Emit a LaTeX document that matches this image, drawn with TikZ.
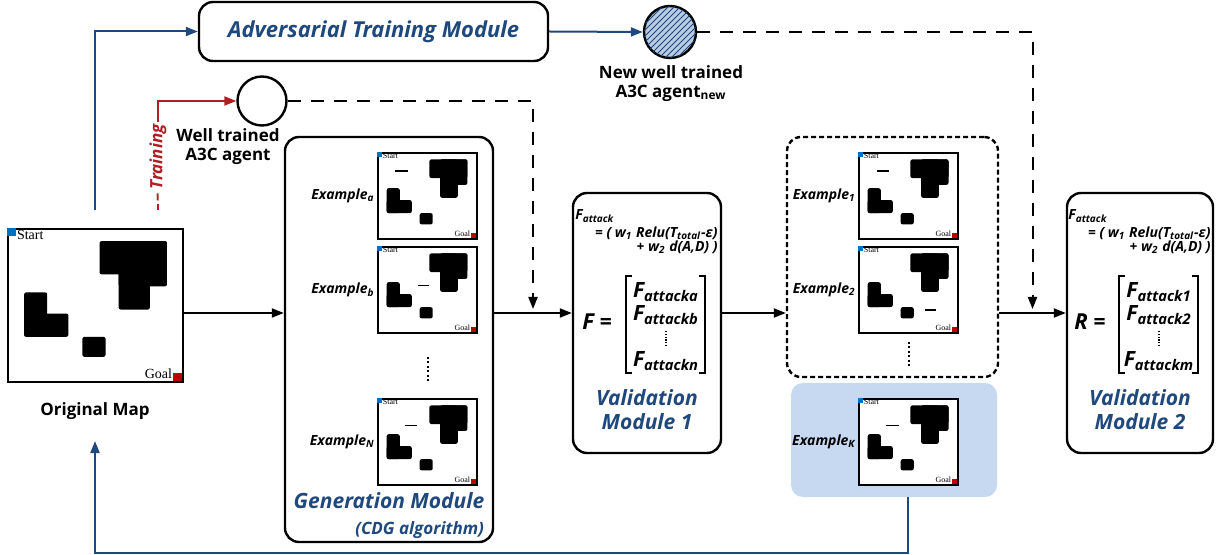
\documentclass[tikz,border=0pt]{standalone}
\usepackage{fontspec}
\setmainfont{Open Sans}
\newfontfamily\mapfont{Liberation Serif}
\usepackage{amsmath}
\usetikzlibrary{arrows.meta,positioning,patterns,calc}
\definecolor{navy}{RGB}{31,73,125}
\definecolor{trainred}{RGB}{176,30,36}
\definecolor{boxblue}{RGB}{198,217,240}
\definecolor{hatchblue}{RGB}{184,204,228}
\definecolor{startblue}{RGB}{0,112,192}
\definecolor{goalred}{RGB}{192,0,0}

% grid map: name, x, y, width, height, font size, extra drawing
\newcommand{\gridmap}[7]{%
  \node[mapbox,minimum width=#4,minimum height=#5,anchor=north west] (#1) at (#2,#3) {};
  \begin{scope}[shift={(#1.north west)},x=#4,y=-#5]
    \fill[obst] (0.529,0.086) rectangle (0.914,0.303);
    \fill[obst] (0.638,0.086) rectangle (0.914,0.382);
    \fill[obst] (0.638,0.086) rectangle (0.816,0.533);
    \fill[obst] (0.098,0.421) rectangle (0.230,0.711);
    \fill[obst] (0.098,0.559) rectangle (0.351,0.711);
    \fill[obst] (0.431,0.711) rectangle (0.563,0.842);
    \fill[startblue] (0,0) rectangle (0.05,0.055);
    \node[anchor=north west,inner sep=0pt,font=\mapfont\fontsize{#6}{#6}\selectfont] (#1-start) at (0.055,0.01) {Start};
    \fill[goalred] (0.95,0.945) rectangle (1,1);
    \node[anchor=south east,inner sep=0pt,font=\mapfont\fontsize{#6}{#6}\selectfont] (#1-goal) at (0.945,0.985) {Goal};
    #7
  \end{scope}}

% fitness vector: name, centre x, symbol, three subscripts
\newcommand{\fvector}[6]{%
  \node[eqn] (#1eq) at (#2-50,322) {#3 =};
  \node[ent] (#1e1) at (#2+19,292) {F\textsubscript{attack#4}};
  \node[ent] (#1e2) at (#2+19,315) {F\textsubscript{attack#5}};
  \node[ent] (#1e3) at (#2+19,361) {F\textsubscript{attack#6}};
  \draw[mdots] (#2+19,331) -- (#2+19,347);
  \draw[brk] (#2-15,276) -- (#2-21,276) -- (#2-21,373) -- (#2-15,373);
  \draw[brk] (#2+52,276) -- (#2+58,276) -- (#2+58,373) -- (#2+52,373);
  \node[fml,anchor=west] (#1fa) at (#2-72,216) {F\textsubscript{attack}};
  \node[fml,anchor=east,align=right] (#1fb) at (#2+71,240) {= ( w\textsubscript{1} Relu(T\textsubscript{total}-ε)\\+ w\textsubscript{2} d(A,D) )};}

\begin{document}
\begin{tikzpicture}[
  x=0.5pt,y=-0.5pt,
  box/.style={draw,line width=1.2pt,rounded corners=7pt,inner sep=0pt},
  mapbox/.style={draw,line width=0.8pt,fill=white,inner sep=0pt},
  obst/.style={black,rounded corners=1pt},
  pert/.style={line width=0.9pt},
  arr/.style={line width=1pt,-{Triangle[length=6pt,width=4.5pt]}},
  bluearr/.style={arr,navy},
  redarr/.style={arr,trainred},
  dasharr/.style={arr,dash pattern=on 6.5pt off 5pt},
  agent/.style={circle,draw,line width=1.2pt,minimum size=24.5pt,inner sep=0pt,fill=white},
  title/.style={text=navy,font=\fontsize{10.5}{12}\selectfont\bfseries\itshape,align=center},
  lbl/.style={font=\fontsize{8.5}{9.5}\selectfont\bfseries,align=center},
  exlbl/.style={font=\fontsize{7}{8}\selectfont\bfseries\itshape,inner sep=0.5pt},
  fml/.style={font=\fontsize{7}{7}\selectfont\bfseries\itshape,inner sep=0pt},
  ent/.style={font=\fontsize{10.5}{11}\selectfont\bfseries\itshape,inner sep=0pt},
  eqn/.style={font=\fontsize{11}{12}\selectfont\bfseries\itshape,inner sep=0pt},
  brk/.style={line width=0.8pt},
  mdots/.style={line width=0.7pt,dash pattern=on 0.6pt off 0.8pt},
  dotline/.style={line width=1.2pt,dash pattern=on 1pt off 1.2pt}
]
\useasboundingbox (0,0) rectangle (1225,555);

% module boxes
\node[box,fill=white,minimum width=174.5pt,minimum height=29.5pt,title,font=\fontsize{11}{13}\selectfont\bfseries\itshape] (atm) at (373.5,31.5) {Adversarial Training Module};
\node[box,minimum width=104pt,minimum height=202.5pt] (gen) at (389,339.5) {};
\node[box,minimum width=74pt,minimum height=130pt] (v1) at (647,323) {};
\node[box,minimum width=73pt,minimum height=130pt] (v2) at (1140,323) {};
\node[box,dash pattern=on 2.5pt off 1.5pt,minimum width=105.5pt,minimum height=120pt] (dbox) at (892.5,257) {};
\node[fill=boxblue,rounded corners=6pt,inner sep=0pt,minimum width=103pt,minimum height=57pt] (exk) at (894,440) {};

% agents
\node[agent] (wta) at (262,101) {};
\node[lbl] (wtalbl) at (228,147) {Well trained\\A3C agent};
\node[agent,minimum size=26pt,fill=hatchblue,postaction={pattern=north east lines,pattern color=navy}] (nwa) at (670,32) {};
\node[lbl] (nwalbl) at (671,84) {New well trained\\A3C agent\textsubscript{new}};

% maps
\gridmap{orig}{7}{228}{87.5pt}{76.5pt}{7}{}
\node[lbl] (origlbl) at (95,411) {Original Map};
\gridmap{mapa}{377}{152}{49.5pt}{43pt}{4}{\draw[pert] (0.18,0.22) -- (0.31,0.22);}
\gridmap{mapb}{377}{246}{49.5pt}{43pt}{4}{\draw[pert] (0.41,0.46) -- (0.53,0.46);}
\gridmap{mapn}{377}{398}{49.5pt}{43pt}{4}{\draw[pert] (0.28,0.32) -- (0.40,0.32);}
\gridmap{map1}{858}{152}{49.5pt}{43pt}{4}{\draw[pert] (0.19,0.22) -- (0.31,0.22);}
\gridmap{map2}{858}{246}{49.5pt}{43pt}{4}{\draw[pert] (0.68,0.74) -- (0.79,0.74);}
\gridmap{mapk}{858}{398}{49.5pt}{43pt}{4}{\draw[pert] (0.28,0.32) -- (0.41,0.32);}
\draw[dotline] (428,357) -- (428,382);
\draw[dotline] (909,342) -- (909,368);

\node[exlbl,left=0.5pt of mapa] (exa) {Example\textsubscript{a}};
\node[exlbl,left=0.5pt of mapb] (exb) {Example\textsubscript{b}};
\node[exlbl,left=0.5pt of mapn] (exn) {Example\textsubscript{N}};
\node[exlbl,left=0.5pt of map1] (ex1) {Example\textsubscript{1}};
\node[exlbl,left=0.5pt of map2] (ex2) {Example\textsubscript{2}};
\node[exlbl,left=0.5pt of mapk] (exkl) {Example\textsubscript{K}};

% titles
\node[title] (gent) at (389,501) {Generation Module};
\node[title,font=\fontsize{8.5}{9}\selectfont\bfseries\itshape,anchor=east] (cdg) at (491,530) {(CDG algorithm)};
\node[title] (v1t) at (647,410) {Validation\\Module 1};
\node[title] (v2t) at (1140,410) {Validation\\Module 2};

% fitness vectors
\fvector{v1}{647}{F}{a}{b}{n}
\fvector{v2}{1140}{R}{1}{2}{m}

% connectors
\coordinate (mid) at (0,313);
\draw[arr] (orig.east |- mid) -- (gen.west |- mid);
\draw[arr] (gen.east |- mid) -- (v1.west |- mid);
\draw[arr] (v1.east |- mid) -- (dbox.west |- mid);
\draw[arr] (dbox.east |- mid) -- (v2.west |- mid);
\coordinate (j1) at ($(gen.east |- mid)!0.5!(v1.west |- mid)$);
\coordinate (j2) at ($(dbox.east |- mid)!0.5!(v2.west |- mid)$);
\draw[dasharr] (wta.east) -| ([yshift=2pt]j1);
\draw[dasharr] (nwa.east) -| ([yshift=2pt]j2);
\coordinate (bstart) at (95,210);
\draw[bluearr] (bstart) |- (atm.west);
\draw[bluearr] (atm.east) -- (nwa.west);
\coordinate (rstart) at (158,210);
\draw[redarr] (rstart) |- (wta.west);
\node[font=\fontsize{8.5}{9}\selectfont\bfseries\itshape,text=trainred,rotate=90,fill=white,inner sep=1pt] (trn) at (158,163) {– Training};
\coordinate (back) at (95,441);
\draw[bluearr] (mapk.south |- exk.south) -- ++(0,56) -| (back);
\end{tikzpicture}
\end{document}
